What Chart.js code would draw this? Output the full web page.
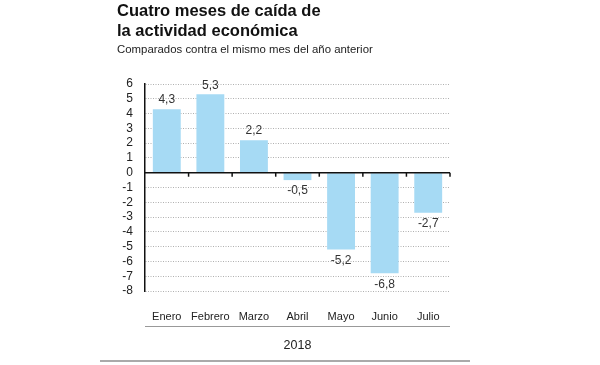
<!DOCTYPE html>
<html>
<head>
<meta charset="utf-8">
<script src="https://cdn.jsdelivr.net/npm/chart.js@4/dist/chart.umd.min.js"></script>
<style>
  html, body { margin: 0; padding: 0; background: #fff; }
  #wrap { position: relative; width: 600px; height: 365px; overflow: hidden; }
  #c { position: absolute; left: 0; top: 0; }
  .title { position: absolute; left: 117px; top: 0px; font-family: "Liberation Sans", Arial, sans-serif; font-weight: bold; font-size: 16.5px; line-height: 20px; color: #111; }
  .sub { position: absolute; left: 117px; top: 43px; font-family: "Liberation Sans", Arial, sans-serif; font-size: 11.4px; color: #222; }
</style>
</head>
<body>
<div id="wrap">
  <canvas id="c" width="600" height="365"></canvas>
  <div class="title">Cuatro meses de caída de<br>la actividad económica</div>
  <div class="sub">Comparados contra el mismo mes del año anterior</div>
</div>
<script>
const categories = ["Enero", "Febrero", "Marzo", "Abril", "Mayo", "Junio", "Julio"];
const values = [4.3, 5.3, 2.2, -0.5, -5.2, -6.8, -2.7];
const yTicks = [6, 5, 4, 3, 2, 1, 0, -1, -2, -3, -4, -5, -6, -7, -8];
const axisTitle = "2018";

const FONT = '"Liberation Sans", Arial, sans-serif';

const decor = {
  id: 'decor',
  afterDatasetsDraw(chart) {
    const ctx = chart.ctx;
    const x = chart.scales.x, y = chart.scales.y;
    const area = chart.chartArea;
    const y0 = y.getPixelForValue(0);
    ctx.save();
    ctx.strokeStyle = '#111';
    ctx.lineWidth = 1.5;
    ctx.beginPath();
    ctx.moveTo(area.left, y0);
    ctx.lineTo(area.right, y0);
    ctx.stroke();
    for (let i = 0; i < categories.length; i++) {
      const bx = i < categories.length - 1
        ? (x.getPixelForValue(i) + x.getPixelForValue(i + 1)) / 2
        : area.right;
      ctx.beginPath();
      ctx.moveTo(bx, y0);
      ctx.lineTo(bx, y0 + 4);
      ctx.stroke();
    }
    ctx.fillStyle = '#333';
    ctx.font = '12px ' + FONT;
    ctx.textAlign = 'center';
    const meta = chart.getDatasetMeta(0);
    meta.data.forEach((bar, i) => {
      const v = values[i];
      const txt = v.toFixed(1).replace('.', ',');
      if (v >= 0) {
        ctx.textBaseline = 'bottom';
        ctx.fillText(txt, bar.x, bar.y - 3);
      } else {
        ctx.textBaseline = 'top';
        ctx.fillText(txt, bar.x, bar.y + 5);
      }
    });
    ctx.strokeStyle = '#999';
    ctx.lineWidth = 1;
    ctx.beginPath();
    ctx.moveTo(area.left, 326.5);
    ctx.lineTo(area.right, 326.5);
    ctx.stroke();
    ctx.fillStyle = '#222';
    ctx.font = '12.5px ' + FONT;
    ctx.textBaseline = 'middle';
    ctx.fillText(axisTitle, (area.left + area.right) / 2, 346);
    ctx.strokeStyle = '#aaa';
    ctx.lineWidth = 2;
    ctx.beginPath();
    ctx.moveTo(100, 361);
    ctx.lineTo(470, 361);
    ctx.stroke();
    ctx.restore();
  }
};

new Chart(document.getElementById('c'), {
  type: 'bar',
  data: {
    labels: categories,
    datasets: [{
      data: values,
      backgroundColor: '#a6daf4',
      borderWidth: 0,
      barPercentage: 0.64,
      categoryPercentage: 1.0
    }]
  },
  options: {
    responsive: false,
    animation: false,
    devicePixelRatio: 1,
    layout: { padding: { left: 100, right: 150, top: 84, bottom: 0 } },
    plugins: { legend: { display: false }, tooltip: { enabled: false }, title: { display: false } },
    scales: {
      x: {
        grid: { display: false, drawTicks: false },
        border: { display: false },
        ticks: { color: '#222', font: { family: FONT, size: 11 }, padding: 19, maxRotation: 0, autoSkip: false },
        afterFit: s => { s.height = 74; }
      },
      y: {
        min: -8, max: 6,
        afterBuildTicks: s => { s.ticks = yTicks.map(v => ({ value: v })); },
        afterFit: s => { s.width = 45; },
        grid: { drawTicks: false, color: '#b0b0b0', lineWidth: 1 },
        border: { display: true, color: '#111', width: 1.5, dash: [1, 1.5] },
        ticks: { color: '#222', font: { family: FONT, size: 12 }, padding: 12, autoSkip: false }
      }
    }
  },
  plugins: [decor]
});
</script>
</body>
</html>
